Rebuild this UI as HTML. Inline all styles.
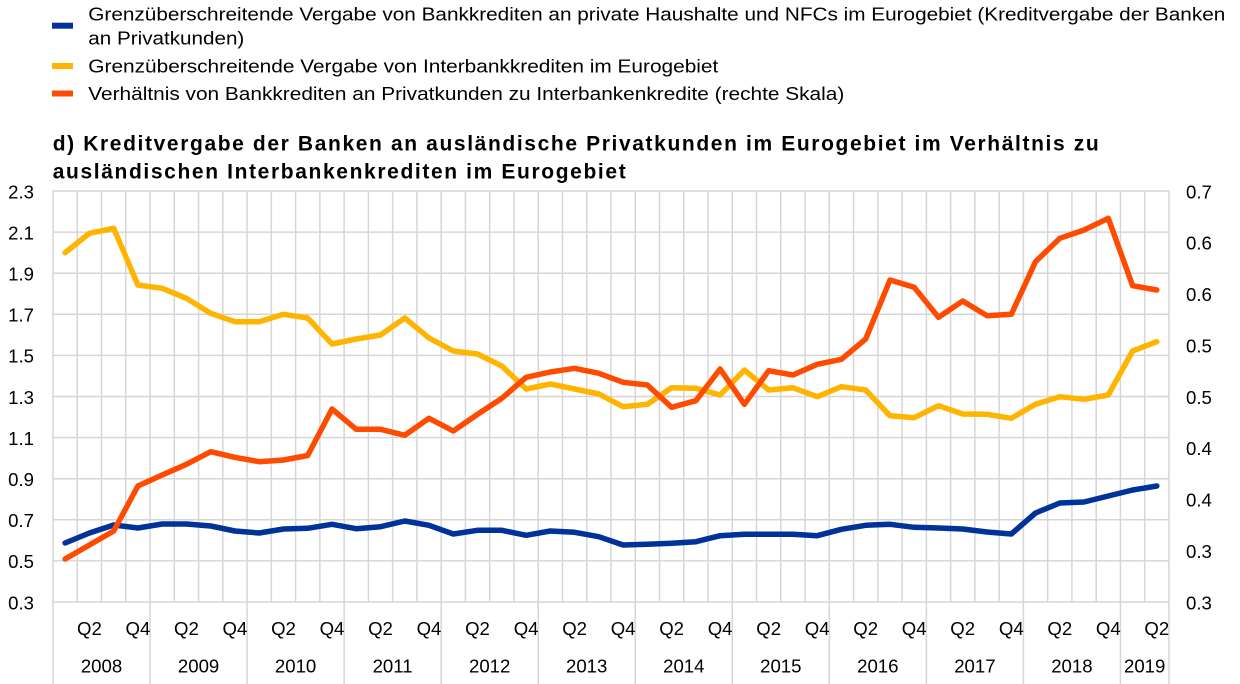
<!DOCTYPE html>
<html><head><meta charset="utf-8"><style>
html,body{margin:0;padding:0;background:#fff;}
svg{display:block;}
text{font-family:"Liberation Sans",Arial,sans-serif;fill:#000;}
</style></head><body>
<svg width="1240" height="684" viewBox="0 0 1240 684" xmlns="http://www.w3.org/2000/svg">
<!-- Legend -->
<rect x="52" y="22.7" width="21" height="6" fill="#003299"/>
<rect x="52" y="63" width="21" height="6" fill="#FFB400"/>
<rect x="52" y="90.5" width="21" height="6" fill="#FF4B00"/>
<g font-size="18.6">
<text x="88.3" y="20.7" textLength="1137" lengthAdjust="spacingAndGlyphs">Grenzüberschreitende Vergabe von Bankkrediten an private Haushalte und NFCs im Eurogebiet (Kreditvergabe der Banken</text>
<text x="88.3" y="44.3" textLength="156" lengthAdjust="spacingAndGlyphs">an Privatkunden)</text>
<text x="88.3" y="72.7" textLength="630" lengthAdjust="spacingAndGlyphs">Grenzüberschreitende Vergabe von Interbankkrediten im Eurogebiet</text>
<text x="88.3" y="100" textLength="756" lengthAdjust="spacingAndGlyphs">Verhältnis von Bankkrediten an Privatkunden zu Interbankenkredite (rechte Skala)</text>
</g>
<!-- Title -->
<g font-size="21" font-weight="bold">
<text x="52.7" y="150.5" textLength="1046" lengthAdjust="spacing">d) Kreditvergabe der Banken an ausländische Privatkunden im Eurogebiet im Verhältnis zu</text>
<text x="52.7" y="178.5" textLength="573" lengthAdjust="spacing">ausländischen Interbankenkrediten im Eurogebiet</text>
</g>
<!-- Grid -->
<g stroke="#d6d6d6" stroke-width="1.5" fill="none">
<path d="M53 191H1169M53 232.1H1169M53 273.2H1169M53 314.3H1169M53 355.4H1169M53 396.5H1169M53 437.6H1169M53 478.7H1169M53 519.8H1169M53 560.9H1169M53 602H1169"/>
<path d="M53 191V602M77.26 191V602M101.52 191V602M125.78 191V602M150.04 191V602M174.3 191V602M198.56 191V602M222.82 191V602M247.08 191V602M271.34 191V602M295.6 191V602M319.86 191V602M344.12 191V602M368.38 191V602M392.64 191V602M416.9 191V602M441.16 191V602M465.42 191V602M489.68 191V602M513.94 191V602M538.2 191V602M562.46 191V602M586.72 191V602M610.98 191V602M635.24 191V602M659.5 191V602M683.76 191V602M708.02 191V602M732.28 191V602M756.54 191V602M780.8 191V602M805.06 191V602M829.32 191V602M853.58 191V602M877.84 191V602M902.1 191V602M926.36 191V602M950.62 191V602M974.88 191V602M999.14 191V602M1023.4 191V602M1047.66 191V602M1071.92 191V602M1096.18 191V602M1120.44 191V602M1144.7 191V602M1168.96 191V602"/>
<path d="M53 602V684M150.04 602V684M247.08 602V684M344.12 602V684M441.16 602V684M538.2 602V684M635.24 602V684M732.28 602V684M829.32 602V684M926.36 602V684M1023.4 602V684M1120.44 602V684M1168.96 602V684"/>
</g>
<!-- Left axis labels -->
<g font-size="18.6" text-anchor="end">
<text x="34" y="198.3">2.3</text>
<text x="34" y="239.4">2.1</text>
<text x="34" y="280.5">1.9</text>
<text x="34" y="321.6">1.7</text>
<text x="34" y="362.7">1.5</text>
<text x="34" y="403.8">1.3</text>
<text x="34" y="444.9">1.1</text>
<text x="34" y="486">0.9</text>
<text x="34" y="527.1">0.7</text>
<text x="34" y="568.2">0.5</text>
<text x="34" y="609.3">0.3</text>
</g>
<!-- Right axis labels -->
<g font-size="18.6">
<text x="1186" y="198.3">0.7</text>
<text x="1186" y="249.7">0.6</text>
<text x="1186" y="301.1">0.6</text>
<text x="1186" y="352.5">0.5</text>
<text x="1186" y="403.8">0.5</text>
<text x="1186" y="455.2">0.4</text>
<text x="1186" y="506.6">0.4</text>
<text x="1186" y="558">0.3</text>
<text x="1186" y="609.3">0.3</text>
</g>
<!-- X labels -->
<g font-size="18.6" text-anchor="middle">
<text x="89.4" y="635">Q2</text><text x="137.9" y="635">Q4</text>
<text x="186.4" y="635">Q2</text><text x="234.9" y="635">Q4</text>
<text x="283.5" y="635">Q2</text><text x="332.0" y="635">Q4</text>
<text x="380.5" y="635">Q2</text><text x="429.0" y="635">Q4</text>
<text x="477.5" y="635">Q2</text><text x="526.1" y="635">Q4</text>
<text x="574.6" y="635">Q2</text><text x="623.1" y="635">Q4</text>
<text x="671.6" y="635">Q2</text><text x="720.1" y="635">Q4</text>
<text x="768.7" y="635">Q2</text><text x="817.2" y="635">Q4</text>
<text x="865.7" y="635">Q2</text><text x="914.2" y="635">Q4</text>
<text x="962.7" y="635">Q2</text><text x="1011.3" y="635">Q4</text>
<text x="1059.8" y="635">Q2</text><text x="1108.3" y="635">Q4</text>
<text x="1156.8" y="635">Q2</text>
<text x="101.5" y="672.7">2008</text>
<text x="198.6" y="672.7">2009</text>
<text x="295.6" y="672.7">2010</text>
<text x="392.6" y="672.7">2011</text>
<text x="489.7" y="672.7">2012</text>
<text x="586.7" y="672.7">2013</text>
<text x="683.8" y="672.7">2014</text>
<text x="780.8" y="672.7">2015</text>
<text x="877.8" y="672.7">2016</text>
<text x="974.9" y="672.7">2017</text>
<text x="1071.9" y="672.7">2018</text>
<text x="1144.7" y="672.7">2019</text>
</g>
<!-- Series -->
<g fill="none" stroke-width="5.5" stroke-linejoin="round" stroke-linecap="round">
<polyline stroke="#003299" points="65.1,543 89.4,533 113.7,525 137.9,528 162.2,524 186.4,524 210.7,526 234.9,531 259.2,533 283.5,529 307.7,528.3 332.0,524.3 356.2,528.7 380.5,526.7 404.8,521 429.0,525.3 453.3,534 477.5,530.3 501.8,530.3 526.1,535.3 550.3,531 574.6,532.3 598.8,536.7 623.1,545 647.4,544.3 671.6,543.3 695.9,541.7 720.1,535.7 744.4,534.3 768.7,534.3 792.9,534.3 817.2,535.7 841.4,529.3 865.7,525.3 890.0,524.3 914.2,527.3 938.5,528 962.7,529 987.0,532 1011.3,534 1035.5,513 1059.8,503 1084.0,502 1108.3,496 1132.6,490 1156.8,486"/>
<polyline stroke="#FFB400" points="65.1,252.7 89.4,233.3 113.7,228.3 137.9,285 162.2,288.3 186.4,298.3 210.7,313.3 234.9,321.7 259.2,321.7 283.5,314.3 307.7,318 332.0,344 356.2,339 380.5,335 404.8,318 429.0,338 453.3,351 477.5,354 501.8,366 526.1,389 550.3,384 574.6,389 598.8,394 623.1,406.7 647.4,404.3 671.6,387.7 695.9,388.3 720.1,395 744.4,370 768.7,390 792.9,387.7 817.2,396.7 841.4,386.7 865.7,390 890.0,415.7 914.2,417.7 938.5,405.7 962.7,414 987.0,414.3 1011.3,418.3 1035.5,404.3 1059.8,396.7 1084.0,399.3 1108.3,395 1132.6,351 1156.8,341.7"/>
<polyline stroke="#FF4B00" points="65.1,559 89.4,545 113.7,531 137.9,486 162.2,475 186.4,464.3 210.7,451.7 234.9,457.3 259.2,461.7 283.5,460 307.7,455.5 332.0,409 356.2,429.3 380.5,429.3 404.8,435.3 429.0,418.3 453.3,431 477.5,414.3 501.8,398.3 526.1,377.3 550.3,372 574.6,368.3 598.8,373.3 623.1,382.3 647.4,385 671.6,407.3 695.9,400.7 720.1,369 744.4,404.3 768.7,370.7 792.9,375 817.2,364.3 841.4,359.3 865.7,339 890.0,280 914.2,287.3 938.5,317.3 962.7,301 987.0,315.7 1011.3,314.3 1035.5,261.7 1059.8,238.3 1084.0,230 1108.3,218.3 1132.6,285.7 1156.8,290"/>
</g>
</svg>
</body></html>
